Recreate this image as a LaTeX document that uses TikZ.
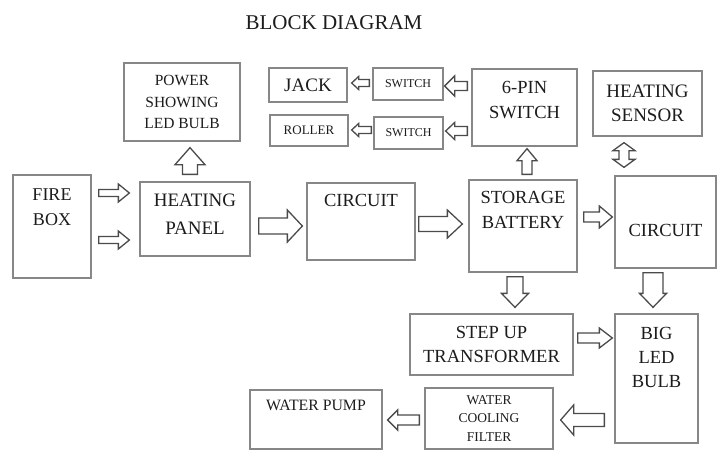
\documentclass[tikz,border=0pt]{standalone}
\usepackage{fontspec}
\setmainfont{Liberation Serif}
\usetikzlibrary{calc}
\definecolor{boxline}{RGB}{135,135,135}
\definecolor{arrline}{RGB}{75,75,75}
\definecolor{textdark}{RGB}{28,28,28}

% hollow block arrow: from, to, shaft half width, head half width, head length
\newcommand{\fatarrow}[5]{%
  \draw[fatarr] let \p1=(#1), \p2=(#2),
    \n1={atan2(\y2-\y1,\x2-\x1)}, \n2={veclen(\x2-\x1,\y2-\y1)-#5} in
    ($(\p1)+(\n1+90:#3)$) -- ($(\p1)+(\n1:\n2)+(\n1+90:#3)$) -- ($(\p1)+(\n1:\n2)+(\n1+90:#4)$) -- (\p2)
    -- ($(\p1)+(\n1:\n2)+(\n1-90:#4)$) -- ($(\p1)+(\n1:\n2)+(\n1-90:#3)$) -- ($(\p1)+(\n1-90:#3)$) -- cycle;}
% same with a head at both ends
\newcommand{\fatdarrow}[5]{%
  \draw[fatarr] let \p1=(#1), \p2=(#2),
    \n1={atan2(\y2-\y1,\x2-\x1)}, \n2={veclen(\x2-\x1,\y2-\y1)-#5} in
    (\p1) -- ($(\p1)+(\n1:#5)+(\n1+90:#4)$) -- ($(\p1)+(\n1:#5)+(\n1+90:#3)$)
    -- ($(\p1)+(\n1:\n2)+(\n1+90:#3)$) -- ($(\p1)+(\n1:\n2)+(\n1+90:#4)$) -- (\p2)
    -- ($(\p1)+(\n1:\n2)+(\n1-90:#4)$) -- ($(\p1)+(\n1:\n2)+(\n1-90:#3)$)
    -- ($(\p1)+(\n1:#5)+(\n1-90:#3)$) -- ($(\p1)+(\n1:#5)+(\n1-90:#4)$) -- cycle;}

\begin{document}
\begin{tikzpicture}[x=1pt, y=1pt,
  box/.style={rectangle, draw=boxline, line width=1.3pt, fill=white, inner sep=0pt, align=center, text=textdark},
  lbl/.style={inner sep=0pt, align=center, text=textdark},
  fatarr/.style={draw=arrline, fill=white, line width=1.3pt, line join=miter}
]
\useasboundingbox (0,0) rectangle (722,-451);

\node[lbl, font=\fontsize{21}{25}\selectfont] (title) at (334,-22.5) {BLOCK DIAGRAM};

% boxes
\node[box, minimum width=78, minimum height=103] (fire) at (52,-226.5) {};
\node[box, minimum width=116, minimum height=78, font=\fontsize{15.5}{21.5}\selectfont] (power) at (182,-102) {POWER\\SHOWING\\LED BULB};
\node[box, minimum width=110, minimum height=74] (panel) at (195,-219) {};
\node[box, minimum width=108, minimum height=77] (circ1) at (361,-221.5) {};
\node[box, minimum width=108, minimum height=92] (storage) at (523,-226) {};
\node[box, minimum width=105, minimum height=77] (sixpin) at (524.5,-107.5) {};
\node[box, minimum width=109, minimum height=65, font=\fontsize{19}{24}\selectfont] (sensor) at (647.5,-103.5) {HEATING\\SENSOR};
\node[box, minimum width=101, minimum height=92] (circ2) at (665.5,-222) {};
\node[box, minimum width=78, minimum height=34, font=\fontsize{19}{23}\selectfont] (jack) at (308,-85) {JACK};
\node[box, minimum width=70, minimum height=32, font=\fontsize{12}{14}\selectfont] (sw1) at (408,-84) {SWITCH};
\node[box, minimum width=78, minimum height=31, font=\fontsize{13}{15}\selectfont] (roller) at (309,-130.5) {ROLLER};
\node[box, minimum width=69, minimum height=32, font=\fontsize{12}{14}\selectfont] (sw2) at (408.5,-133) {SWITCH};
\node[box, minimum width=163, minimum height=61, font=\fontsize{18.5}{23.5}\selectfont] (trafo) at (491.5,-344.5) {STEP UP\\TRANSFORMER};
\node[box, minimum width=83, minimum height=129] (bulb) at (656.5,-378.5) {};
\node[box, minimum width=128, minimum height=61, font=\fontsize{13.5}{18.5}\selectfont] (filter) at (489,-418.5) {WATER\\COOLING\\FILTER};
\node[box, minimum width=132, minimum height=59] (pump) at (316,-419.5) {};

% texts sitting high in their boxes
\node[lbl, font=\fontsize{18}{25}\selectfont] (firetxt) at ($(fire)+(0,19.5)$) {FIRE\\BOX};
\node[lbl, font=\fontsize{19}{28}\selectfont] (paneltxt) at ($(panel)+(0,5)$) {HEATING\\PANEL};
\node[lbl, font=\fontsize{18.5}{22}\selectfont] (circ1txt) at ($(circ1)+(0,21)$) {CIRCUIT};
\node[lbl, font=\fontsize{18.5}{25.5}\selectfont] (storagetxt) at ($(storage)+(0,16)$) {STORAGE\\BATTERY};
\node[lbl, font=\fontsize{18.5}{25}\selectfont] (sixpintxt) at ($(sixpin)+(0,7.5)$) {6-PIN\\SWITCH};
\node[lbl, font=\fontsize{18.5}{22}\selectfont] (circ2txt) at ($(circ2)+(0,-8)$) {CIRCUIT};
\node[lbl, font=\fontsize{18.5}{24}\selectfont] (bulbtxt) at ($(bulb)+(0,21)$) {BIG\\LED\\BULB};
\node[lbl, font=\fontsize{15.8}{19}\selectfont] (pumptxt) at ($(pump)+(0,14.5)$) {WATER PUMP};

% arrows
\fatarrow{$(fire.east)+(7,33.5)$}{$(fire.east -| panel.west)+(-10,33.5)$}{3.5}{9}{11}
\fatarrow{$(fire.east)+(7,-13.5)$}{$(fire.east -| panel.west)+(-10,-13.5)$}{3.5}{9}{11}
\fatarrow{$(panel.north)+(-5,7)$}{$(panel.north |- power.south)+(-5,-6)$}{7.5}{15}{17}
\fatarrow{$(panel.east)+(8,-7)$}{$(panel.east -| circ1.west)+(-4,-7)$}{8}{16}{15}
\fatarrow{$(circ1.east)+(3,-2.5)$}{$(circ1.east -| storage.west)+(-6,-2.5)$}{7.5}{14}{15}
\fatarrow{$(storage.north)+(4,5)$}{$(storage.north |- sixpin.south)+(4,-2)$}{5}{10}{12}
\fatarrow{$(sixpin.west |- sw1.east)+(-4,-2)$}{$(sw1.east)+(1,-2)$}{4.5}{10}{10}
\fatarrow{$(sw1.west)+(-3,1)$}{$(sw1.west -| jack.east)+(4,1)$}{3.5}{6.5}{7}
\fatarrow{$(sixpin.west |- sw2.east)+(-4,2)$}{$(sw2.east)+(2,2)$}{4.5}{8.5}{9}
\fatarrow{$(sw2.west)+(-2,3)$}{$(sw2.west -| roller.east)+(3,3)$}{3.5}{6.5}{7}
\fatarrow{$(storage.east)+(6,9)$}{$(storage.east -| circ2.west)+(-2,9)$}{5}{11}{13}
\fatdarrow{$(sensor.south)+(-23.5,-6)$}{$(sensor.south |- circ2.north)+(-23.5,8)$}{5}{11}{8}
\fatarrow{$(storage.south)+(-8,-4)$}{$(storage.south |- trafo.north)+(-8,6)$}{8}{13.5}{14}
\fatarrow{$(circ2.south)+(-12.5,-4)$}{$(circ2.south |- bulb.north)+(-12.5,6)$}{10}{13.5}{14}
\fatarrow{$(trafo.east)+(4,6.5)$}{$(trafo.east -| bulb.west)+(-2,6.5)$}{5}{10}{13}
\fatarrow{$(bulb.west |- filter.east)+(-10,-1.5)$}{$(filter.east)+(7,-1.5)$}{6.5}{15}{13}
\fatarrow{$(filter.west)+(-5,-1.5)$}{$(filter.west -| pump.east)+(5,-1.5)$}{5}{10}{10}
\end{tikzpicture}
\end{document}
